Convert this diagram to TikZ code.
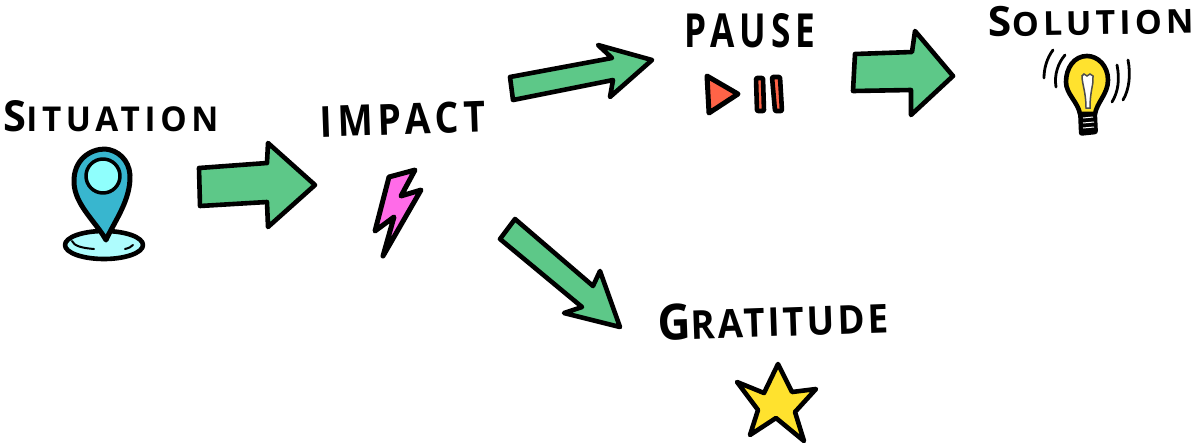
\documentclass[tikz,border=0pt]{standalone}
\usepackage{graphicx}
\usepackage{fontspec}
\setmainfont{Open Sans}
\definecolor{arrowgreen}{HTML}{5DC888}
\definecolor{pinblue}{HTML}{38B6CF}
\definecolor{pinlight}{HTML}{8FFFFD}
\definecolor{pinbase}{HTML}{AEFCFD}
\definecolor{boltpink}{HTML}{FF6BE8}
\definecolor{playred}{HTML}{FF6347}
\definecolor{staryellow}{HTML}{FFE22E}
\tikzset{
  ink/.style={draw=black,line width=4.6pt,line join=round,line cap=round},
  blockarrow/.style={ink,fill=arrowgreen},
  word/.style={inner sep=0pt,outer sep=0pt,text=black},
  ray/.style={draw=black,line width=2.8pt,line cap=round}
}
\newcommand{\initialcap}[1]{{\fontsize{12.5}{12}\selectfont #1}}
\newcommand{\handword}[4]{\resizebox{#1pt}{#2pt}{\bfseries\addfontfeature{LetterSpace=#3}\fontsize{10}{12}\selectfont #4}}
\begin{document}
\begin{tikzpicture}[x=1pt,y=-1pt]
\useasboundingbox (0,0) rectangle (1200,445);
% labels
\node[word,rotate=0] (situation) at (111,116) {\handword{215}{31}{14}{\initialcap{S}ITUATION}};
\node[word,rotate=2] (impact) at (403,119) {\handword{166}{31}{14}{IMPACT}};
\node[word,rotate=0] (pause) at (750,31) {\handword{130}{34}{14}{PAUSE}};
\node[word,rotate=1] (solution) at (1091,20) {\handword{205}{30}{12}{\initialcap{S}OLUTION}};
\node[word,rotate=2] (gratitude) at (773,319) {\handword{230}{36}{8}{\initialcap{G}RATITUDE}};
% block arrows
\path[blockarrow] (199,168) -- (267,163) -- (268,143) -- (315,185) -- (268,227) -- (267,202) -- (200,206) -- cycle;
\path[blockarrow] (510,77) -- (612,58) -- (598,45) -- (652,60) -- (610,97) -- (613,80) -- (513,100) -- cycle;
\path[blockarrow] (855,54) -- (912,52) -- (915,31) -- (953,76) -- (911,115) -- (911,90) -- (853,91) -- cycle;
\path[blockarrow] (515,219) -- (593,286) -- (600,271) -- (620,327) -- (564,313) -- (582,307) -- (500,239) -- cycle;
% pin
\path[ink,fill=pinbase] (104,245) ellipse [x radius=39,y radius=14];
\draw[line width=2pt,line cap=round] (72,241) .. controls (74,246) and (82,248) .. (94,249);
\draw[line width=2pt,line cap=round] (125,249) .. controls (129,248) and (131,247) .. (133,245);
\path[ink,line width=5pt,fill=pinblue] (105,149) .. controls (90,149) and (73,160) .. (74,183) .. controls (75,205) and (96,222) .. (106,240) .. controls (114,222) and (131,200) .. (130,175) .. controls (129,160) and (118,150) .. (105,149) -- cycle;
\path[ink,line width=3.5pt,fill=pinlight] (103,176) circle [radius=17];
% bolt
\path[ink,line width=5pt,fill=boltpink] (389,177) -- (415,170) -- (401,196) -- (421,190) -- (383,256) -- (394,217) -- (375,231) -- cycle;
% pause icon
\path[ink,line width=5pt,fill=playred] (707,76) -- (738,94) -- (709,113) -- cycle;
\path[ink,fill=playred,rounded corners=1pt] (756,78) -- (763,78) -- (764,111) -- (757,111) -- cycle;
\path[ink,fill=playred,rounded corners=1pt] (772,77) -- (780,77) -- (782,111) -- (775,111) -- cycle;
% bulb
\path[ink,fill=staryellow] (1087,56) .. controls (1074,56) and (1066,68) .. (1066,82) .. controls (1066,94) and (1078,102) .. (1080,114) -- (1095,114) .. controls (1097,102) and (1108,94) .. (1108,80) .. controls (1108,66) and (1098,56) .. (1087,56) -- cycle;
\path[draw=black!70,line width=1.5pt,fill=white] (1082,76) -- (1084,74) -- (1087,76) -- (1090,74) -- (1093,76) .. controls (1094,84) and (1090,90) .. (1090,108) -- (1086,108) .. controls (1086,92) and (1082,84) .. (1082,76) -- cycle;
\path[fill=black,rounded corners=3pt] (1078,112) -- (1097,112) -- (1098,134) -- (1079,136) -- cycle;
\draw[white,line width=1pt] (1083,118) -- (1093,117) (1083,123) -- (1094,122) (1083,128) -- (1094,127);
\path[ray] (1053,50) .. controls (1047,58) and (1044,68) .. (1044,78);
\path[ray] (1065,55) .. controls (1058,63) and (1054,75) .. (1056,87);
\path[ray] (1117,65) .. controls (1120,80) and (1118,92) .. (1112,102);
\path[ray] (1128,60) .. controls (1131,75) and (1129,90) .. (1123,100);
% star
\path[ink,fill=staryellow] (778,364) -- (792,392) -- (816,389) -- (795,412) -- (804,441) -- (776,418) -- (750,435) -- (758,410) -- (737,382) -- (764,393) -- cycle;
\end{tikzpicture}
\end{document}
